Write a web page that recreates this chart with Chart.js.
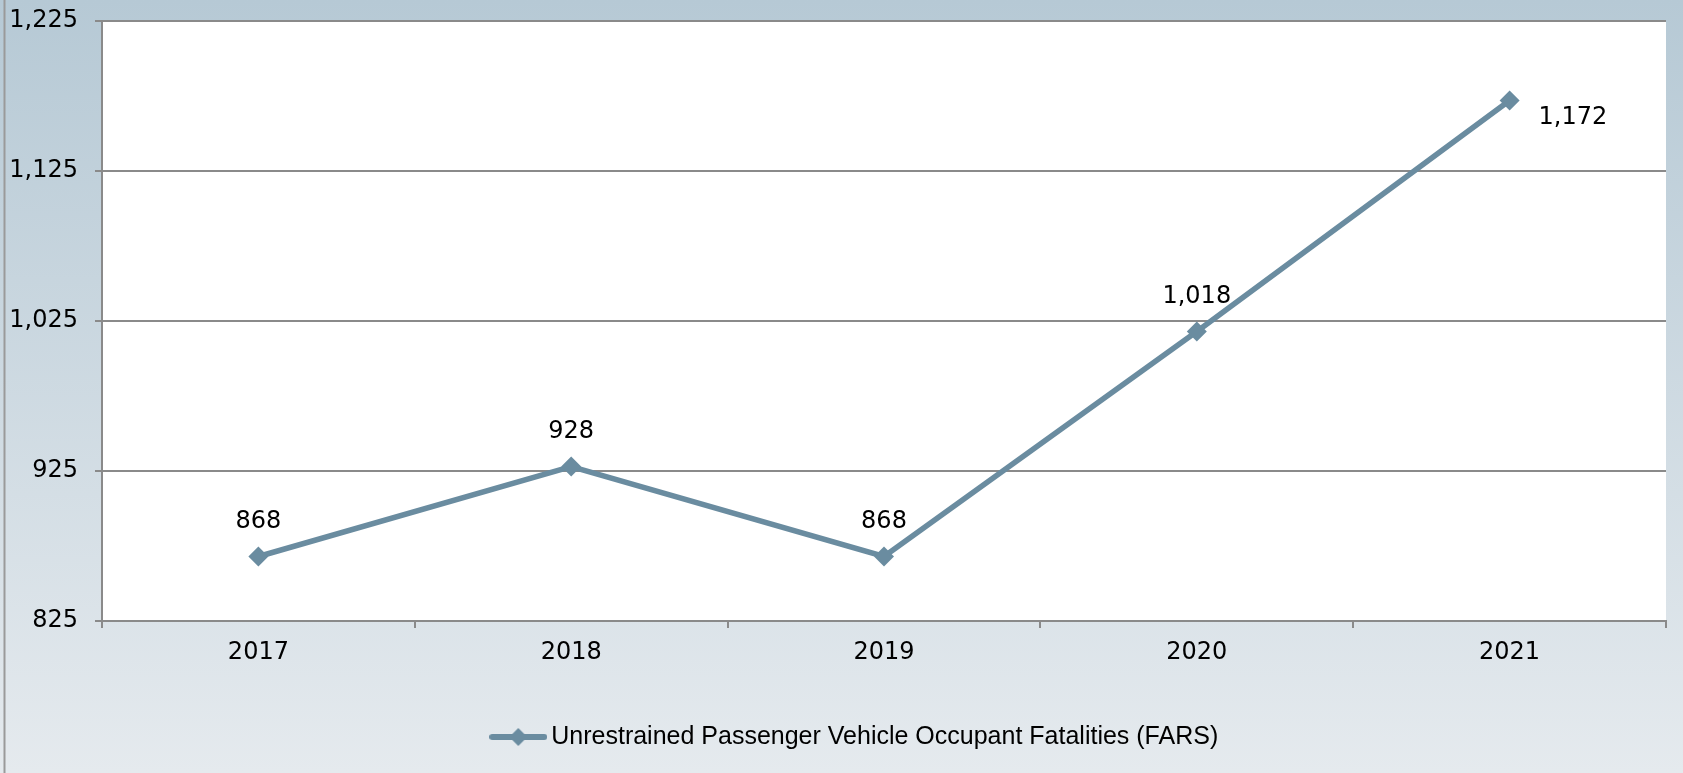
<!DOCTYPE html>
<html>
<head>
<meta charset="utf-8">
<script src="https://cdn.jsdelivr.net/npm/chart.js@4"></script>
<style>
  body { margin: 0; background: #ffffff; }
  #wrap { width: 1683px; height: 773px; }
</style>
</head>
<body>
<div id="wrap"><canvas id="fatalities-chart" width="1683" height="773"></canvas></div>
<script>
// Unrestrained passenger vehicle occupant fatalities per year
var years = ["2017", "2018", "2019", "2020", "2021"];
var fatalities = [868, 928, 868, 1018, 1172];
var yTicks = [825, 925, 1025, 1125, 1225];

var lineColor = "#6a8ca0";
var gridColor = "#8a8a8a";
var fontFamily = "'DejaVu Sans', Verdana, sans-serif";

// Legend swatch: a short line with a diamond in the middle
function legendSwatch() {
    var c = document.createElement("canvas");
    c.width = 58;
    c.height = 22;
    var g = c.getContext("2d");
    g.strokeStyle = lineColor;
    g.lineWidth = 6;
    g.lineCap = "round";
    g.beginPath();
    g.moveTo(3, 11);
    g.lineTo(55, 11);
    g.stroke();
    g.fillStyle = lineColor;
    g.beginPath();
    g.moveTo(29, 2);
    g.lineTo(38, 11);
    g.lineTo(29, 20);
    g.lineTo(20, 11);
    g.closePath();
    g.fill();
    return c;
}

// Gradient backdrop, white plot area and the frame line on the left
var backdrop = {
    id: "backdrop",
    afterLayout: function(chart) {
        // nudge the legend a little right of the canvas centre
        if (chart.legend) {
            chart.legend.left += 25;
            chart.legend.right += 25;
        }
    },
    beforeDraw: function(chart) {
        var ctx = chart.ctx;
        var a = chart.chartArea;
        ctx.save();
        var grad = ctx.createLinearGradient(0, 0, 0, chart.height);
        grad.addColorStop(0, "#b6c9d5");
        grad.addColorStop(1, "#e5eaee");
        ctx.fillStyle = grad;
        ctx.fillRect(0, 0, chart.width, chart.height);
        ctx.fillStyle = "#ffffff";
        ctx.fillRect(a.left, a.top, a.right - a.left, a.bottom - a.top);
        ctx.strokeStyle = "#9a9a9a";
        ctx.lineWidth = 2;
        ctx.beginPath();
        ctx.moveTo(4.5, 0);
        ctx.lineTo(4.5, chart.height);
        ctx.stroke();
        ctx.restore();
    }
};

// Value labels above each point (the last one sits to the right)
var valueLabels = {
    id: "valueLabels",
    afterDatasetsDraw: function(chart) {
        var ctx = chart.ctx;
        var meta = chart.getDatasetMeta(0);
        var data = chart.data.datasets[0].data;
        ctx.save();
        ctx.font = "24px " + fontFamily;
        ctx.fillStyle = "#000000";
        ctx.textBaseline = "middle";
        meta.data.forEach(function(pt, i) {
            var text = data[i].toLocaleString("en-US");
            if (i === data.length - 1) {
                ctx.textAlign = "left";
                ctx.fillText(text, pt.x + 29, pt.y + 17);
            } else {
                ctx.textAlign = "center";
                ctx.fillText(text, pt.x, pt.y - 35);
            }
        });
        ctx.restore();
    }
};

new Chart(document.getElementById("fatalities-chart"), {
    type: "line",
    data: {
        labels: years,
        datasets: [{
            label: "Unrestrained Passenger Vehicle Occupant Fatalities (FARS)",
            data: fatalities,
            borderColor: lineColor,
            backgroundColor: lineColor,
            borderWidth: 5.5,
            tension: 0,
            pointStyle: "rectRot",
            pointRadius: 10,
            pointHoverRadius: 10,
            pointBorderWidth: 0,
            pointBackgroundColor: lineColor
        }]
    },
    options: {
        responsive: false,
        animation: false,
        layout: {
            padding: { left: 0, top: 21, right: 17, bottom: 13.5 }
        },
        scales: {
            x: {
                offset: true,
                grid: {
                    offset: true,
                    drawOnChartArea: false,
                    color: gridColor,
                    lineWidth: 2,
                    tickLength: 7
                },
                border: { color: gridColor, width: 2 },
                ticks: {
                    color: "#000000",
                    font: { family: fontFamily, size: 24 },
                    padding: 10
                },
                afterFit: function(scale) {
                    scale.height = 93.5;
                    scale.paddingLeft = 0;
                    scale.paddingRight = 0;
                }
            },
            y: {
                min: 825,
                max: 1225,
                afterBuildTicks: function(scale) {
                    scale.ticks = yTicks.map(function(v) { return { value: v }; });
                },
                grid: {
                    color: gridColor,
                    lineWidth: 2,
                    tickLength: 7
                },
                border: { color: gridColor, width: 2 },
                ticks: {
                    color: "#000000",
                    font: { family: fontFamily, size: 24 },
                    padding: 17,
                    callback: function(v) { return v.toLocaleString("en-US"); }
                },
                afterFit: function(scale) {
                    scale.width = 102;
                    scale.paddingTop = 0;
                    scale.paddingBottom = 0;
                }
            }
        },
        plugins: {
            legend: {
                position: "bottom",
                labels: {
                    color: "#000000",
                    font: { family: "'Liberation Sans', Arial, sans-serif", size: 25 },
                    usePointStyle: true,
                    pointStyleWidth: 41,
                    generateLabels: function(chart) {
                        return [{
                            text: chart.data.datasets[0].label,
                            pointStyle: legendSwatch(),
                            fillStyle: lineColor,
                            strokeStyle: lineColor,
                            lineWidth: 0,
                            datasetIndex: 0
                        }];
                    }
                }
            },
            tooltip: { enabled: false }
        }
    },
    plugins: [backdrop, valueLabels]
});
</script>
</body>
</html>
